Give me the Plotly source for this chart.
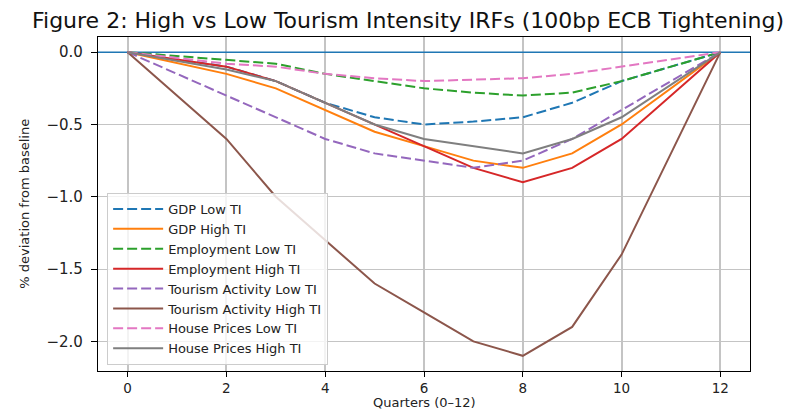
import plotly.graph_objects as go

quarters = [0, 2, 3, 4, 5, 6, 7, 8, 9, 10, 12]

gdp_low = [0, -0.10, -0.20, -0.35, -0.45, -0.50, -0.48, -0.45, -0.35, -0.20, 0]
gdp_high = [0, -0.15, -0.25, -0.40, -0.55, -0.65, -0.75, -0.80, -0.70, -0.50, 0]
emp_low = [0, -0.05, -0.08, -0.15, -0.20, -0.25, -0.28, -0.30, -0.28, -0.20, 0]
emp_high = [0, -0.10, -0.20, -0.35, -0.50, -0.65, -0.80, -0.90, -0.80, -0.60, 0]
tour_low = [0, -0.30, -0.45, -0.60, -0.70, -0.75, -0.80, -0.75, -0.60, -0.40, 0]
tour_high = [0, -0.60, -1.00, -1.30, -1.60, -1.80, -2.00, -2.10, -1.90, -1.40, 0]
hp_low = [0, -0.08, -0.10, -0.15, -0.18, -0.20, -0.19, -0.18, -0.15, -0.10, 0]
hp_high = [0, -0.12, -0.20, -0.35, -0.50, -0.60, -0.65, -0.70, -0.60, -0.45, 0]

series_names = [
    "GDP Low TI", "GDP High TI", "Employment Low TI", "Employment High TI",
    "Tourism Activity Low TI", "Tourism Activity High TI",
    "House Prices Low TI", "House Prices High TI",
]
series_values = [gdp_low, gdp_high, emp_low, emp_high, tour_low, tour_high, hp_low, hp_high]
colors = ["#1f77b4", "#ff7f0e", "#2ca02c", "#d62728", "#9467bd", "#8c564b", "#e377c2", "#7f7f7f"]

y_tickvals = [-2.0, -1.5, -1.0, -0.5, 0.0]
y_ticktext = ["\u22122.0", "\u22121.5", "\u22121.0", "\u22120.5", "0.0"]
x_tickvals = [0, 2, 4, 6, 8, 10, 12]

FONT = "DejaVu Sans"
TXT = "#222222"

fig = go.Figure()

# baseline at zero
fig.add_trace(go.Scatter(
    x=[-0.6, 12.6], y=[0, 0], mode="lines",
    line=dict(color="#1f77b4", width=1.6),
    showlegend=False, hoverinfo="skip",
))

for i, (name, vals) in enumerate(zip(series_names, series_values)):
    fig.add_trace(go.Scatter(
        x=quarters, y=vals, mode="lines", name=name,
        line=dict(color=colors[i], width=2,
                  dash="10px,4px" if i % 2 == 0 else "solid"),
    ))

# the page body adds an 8px offset, so margins are shifted by 8px
fig.update_layout(
    width=796, height=410,
    margin=dict(l=90, r=54, t=29, b=47, autoexpand=False),
    paper_bgcolor="white", plot_bgcolor="white",
    font=dict(family=FONT, size=15, color=TXT),
    title=dict(
        text="Figure 2: High vs Low Tourism Intensity IRFs (100bp ECB Tightening)",
        x=0.5025, xref="container", xanchor="center",
        y=0.971, yref="container", yanchor="middle",
        font=dict(family=FONT, size=22, color="#111111"),
    ),
    legend=dict(
        x=0.014, y=0.018, xanchor="left", yanchor="bottom",
        bgcolor="rgba(255,255,255,0.8)", bordercolor="#cccccc", borderwidth=1,
        font=dict(family=FONT, size=13, color=TXT),
        itemwidth=50, tracegroupgap=0,
    ),
    showlegend=True,
    annotations=[
        dict(text="Quarters (0\u201312)", x=0.5, y=-0.0689, xref="paper", yref="paper",
             xanchor="center", yanchor="top", showarrow=False, borderpad=0,
             font=dict(family=FONT, size=13, color=TXT)),
        dict(text="% deviation from baseline", x=-0.114, y=0.5, xref="paper", yref="paper",
             xanchor="center", yanchor="middle", textangle=-90, showarrow=False,
             font=dict(family=FONT, size=13, color=TXT)),
    ],
)

fig.update_xaxes(
    range=[-0.6, 12.6], tickvals=x_tickvals, automargin=False,
    showgrid=True, gridcolor="#c4c4c4", gridwidth=1.6,
    zeroline=False, showline=True, mirror=True, linecolor="black", linewidth=1.3,
    ticks="outside", ticklen=5, tickcolor="black", tickwidth=1.2,
    tickfont=dict(family=FONT, size=13.5, color=TXT),
)
fig.update_yaxes(
    range=[-2.205, 0.105], tickvals=y_tickvals, ticktext=y_ticktext, automargin=False,
    showgrid=True, gridcolor="#c4c4c4", gridwidth=1.3,
    zeroline=False, showline=True, mirror=True, linecolor="black", linewidth=1.3,
    ticks="outside", ticklen=6, tickcolor="black", tickwidth=1.2,
    ticklabelstandoff=5,
    tickfont=dict(family=FONT, size=15, color=TXT),
)

fig.write_html("out.html")
